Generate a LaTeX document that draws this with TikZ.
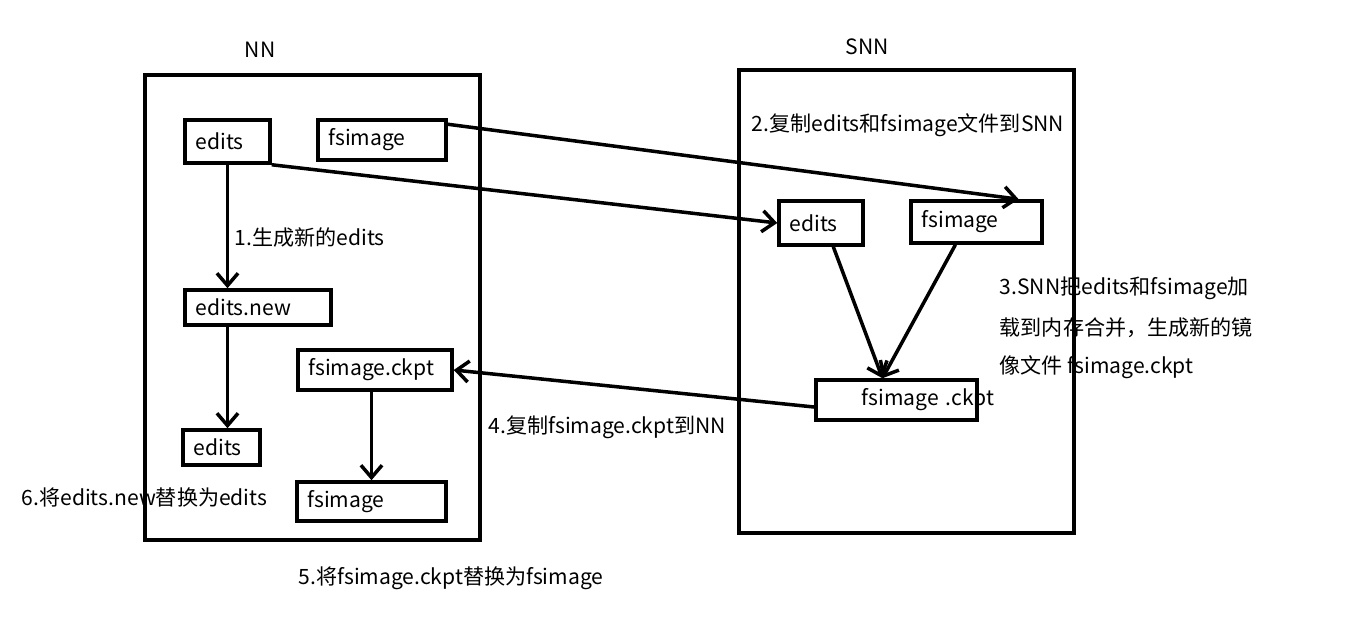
\documentclass[tikz,border=0pt]{standalone}
\usepackage{fontspec}
\setmainfont{Noto Sans CJK SC}
\usetikzlibrary{arrows.meta}
\begin{document}
\begin{tikzpicture}[x=0.02cm,y=-0.02cm,line width=2pt,
    every node/.style={font=\fontsize{12}{14}\selectfont},
    box/.style 2 args={draw,rectangle,inner sep=0pt,minimum width=#1*0.02cm,
        minimum height=#2*0.02cm,text width=#1*0.02cm-12pt,align=left},
    flow/.style={-{Straight Barb[length=7pt,width=12pt]}},
    note/.style={anchor=west,inner sep=0pt}]
    \useasboundingbox (0,0) rectangle (1346,638);
    % frames
    \draw (145,75) rectangle (480,540);
    \draw (739,70) rectangle (1074,533);
    \node (nnlabel) at (260,50) {NN};
    \node (snnlabel) at (867,47) {SNN};
    % NN side
    \node[box={85}{43}] (edits) at (227.5,141.5) {edits};
    \node[box={128}{40}] (fsimage) at (382,140) {fsimage};
    \node[box={146}{35}] (editsnew) at (258,307.5) {edits.new};
    \node[box={154}{40}] (ckpt) at (375,370) {fsimage.ckpt};
    \node[box={77}{35}] (editsb) at (221.5,447.5) {edits};
    \node[box={149}{39}] (fsimageb) at (371.5,501.5) {fsimage};
    % SNN side
    \node[box={84}{44}] (sedits) at (821,223) {edits};
    \node[box={131}{42}] (sfsimage) at (976.5,222) {fsimage};
    \node[box={161}{40}] (sckpt) at (896.5,400) {\mbox{\hspace{20pt}fsimage .ckpt}};
    % labels
    \node[note] (n1) at (233,238) {1.生成新的edits};
    \node[note] (n2) at (750,125) {2.复制edits和fsimage文件到SNN};
    \node[note] (n3a) at (998,288) {3.SNN把edits和fsimage加};
    \node[note] (n3b) at (998,328) {载到内存合并，生成新的镜};
    \node[note] (n3c) at (998,367) {像文件 fsimage.ckpt};
    \node[note] (n4) at (487,427) {4.复制fsimage.ckpt到NN};
    \node[note] (n5) at (297,578) {5.将fsimage.ckpt替换为fsimage};
    \node[note] (n6) at (20,497) {6.将edits.new替换为edits};
    % arrows
    \draw[flow] (edits.south) -- (editsnew.north -| edits.south);
    \draw[flow] (editsnew.south -| edits.south) -- (editsb.north -| edits.south);
    \draw[flow] (ckpt.south -| fsimageb.north) -- (fsimageb.north);
    \draw[flow] (edits.south east) -- (sedits.west);
    \draw[flow] (fsimage.north east) ++(0,6) -- ([xshift=24pt]sfsimage.north);
    \draw[flow] ([xshift=7pt]sedits.south) -- ([xshift=-8pt]sckpt.north);
    \draw[flow] ([xshift=-12pt]sfsimage.south) -- ([xshift=-8pt]sckpt.north);
    \draw[flow] ([yshift=-4pt]sckpt.west) -- (ckpt.east);
\end{tikzpicture}
\end{document}
